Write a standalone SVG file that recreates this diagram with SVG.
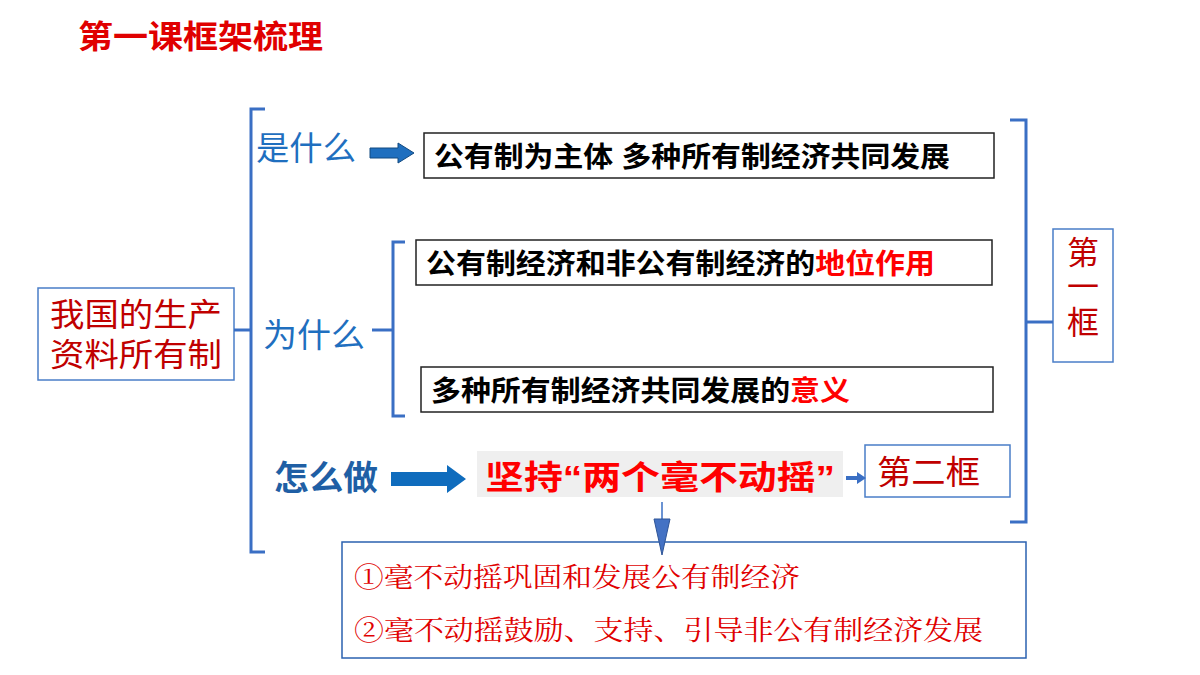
<svg xmlns="http://www.w3.org/2000/svg" width="1200" height="675" viewBox="0 0 1200 675">
<style>
.b{font-family:"Liberation Sans","Noto Sans CJK SC",sans-serif;font-weight:bold;}
.n{font-family:"Liberation Sans","Noto Sans CJK SC",sans-serif;}
.s{font-family:"Liberation Serif","Noto Serif CJK SC","Noto Sans CJK SC",serif;}
.box{fill:#fff;stroke:#222;stroke-width:1.5;}
.bbox{fill:#fff;stroke:#4a7ec8;stroke-width:1.5;}
.br{fill:none;stroke:#3a6fc4;stroke-width:3;}
</style>
<rect width="1200" height="675" fill="#fff"/>
<text class="b" x="78" y="48" font-size="32" fill="#e00000" textLength="245" lengthAdjust="spacingAndGlyphs">第一课框架梳理</text>
<g id="root"><rect class="bbox" x="38" y="288" width="196" height="92"/>
<text class="n" x="50" y="326" font-size="32" fill="#c00000" textLength="172" lengthAdjust="spacingAndGlyphs">我国的生产</text>
<text class="n" x="50" y="366" font-size="32" fill="#c00000" textLength="172" lengthAdjust="spacingAndGlyphs">资料所有制</text></g>
<g id="what"><text class="n" x="256" y="160" font-size="33" fill="#1f6fbf" textLength="100" lengthAdjust="spacingAndGlyphs">是什么</text></g>
<g id="why"><text class="n" x="263" y="347" font-size="33" fill="#1f6fbf" textLength="102" lengthAdjust="spacingAndGlyphs">为什么</text></g>
<g id="how"><text class="b" x="274" y="490" font-size="34" fill="#1f5fa5" textLength="104" lengthAdjust="spacingAndGlyphs">怎么做</text></g>
<g id="n1"><rect class="box" x="424" y="133" width="570" height="45"/>
<text class="b" x="434" y="167" font-size="28" fill="#000" textLength="516" lengthAdjust="spacingAndGlyphs">公有制为主体 多种所有制经济共同发展</text></g>
<g id="n2"><rect class="box" x="416" y="240" width="576" height="45"/>
<text class="b" x="426" y="274" font-size="28" fill="#000" textLength="509" lengthAdjust="spacingAndGlyphs">公有制经济和非公有制经济的<tspan fill="#ff0000">地位作用</tspan></text></g>
<g id="n3"><rect class="box" x="421" y="367" width="572" height="45"/>
<text class="b" x="431" y="401" font-size="28" fill="#000" textLength="419" lengthAdjust="spacingAndGlyphs">多种所有制经济共同发展的<tspan fill="#ff0000">意义</tspan></text></g>
<g id="n4"><rect x="477" y="451" width="366" height="46" fill="#efefef"/>
<text class="b" x="485" y="489" font-size="33" fill="#ff0000" textLength="350" lengthAdjust="spacingAndGlyphs">坚持“两个毫不动摇”</text></g>
<g id="n5"><rect class="bbox" x="865" y="445" width="145" height="52"/>
<text class="n" x="877" y="484" font-size="33" fill="#c00000" textLength="103" lengthAdjust="spacingAndGlyphs">第二框</text></g>
<g id="n6"><rect class="bbox" x="1053" y="229" width="60" height="133"/>
<text class="n" x="1083" y="264" font-size="32" fill="#c00000" text-anchor="middle">第</text>
<text class="n" x="1083" y="298" font-size="32" fill="#c00000" text-anchor="middle">一</text>
<text class="n" x="1083" y="334" font-size="32" fill="#c00000" text-anchor="middle">框</text></g>
<g id="n7"><rect x="342" y="542" width="684" height="116" fill="#fff" stroke="#2b62b0" stroke-width="1.5"/>
<text class="s" x="354" y="587" font-size="27" fill="#e00000" textLength="446" lengthAdjust="spacingAndGlyphs">①毫不动摇巩固和发展公有制经济</text>
<text class="s" x="354" y="640" font-size="27" fill="#e00000" textLength="629" lengthAdjust="spacingAndGlyphs">②毫不动摇鼓励、支持、引导非公有制经济发展</text></g>
<g id="connectors">
<path class="br" d="M265 109 H251 V552 H265"/>
<path class="br" d="M234 330 H251" stroke-width="2"/>
<path class="br" d="M405 242 H393 V416 H405"/>
<path class="br" d="M372 330 H393" stroke-width="2"/>
<path class="br" d="M1010 120 H1026 V522 H1010"/>
<path class="br" d="M1026 322 H1053" stroke-width="2"/>
<path d="M370 148 H398 V143 L414 153 L398 163 V158 H370 Z" fill="#1f6fbf" stroke="#134a80" stroke-width="1"/>
<path d="M391 472 H447 V465 L466 479 L447 493 V486 H391 Z" fill="#0f6cbd"/>
<path d="M846 476 H857 V472 L866 478 L857 484 V480 H846 Z" fill="#3a6fc4"/>
<line x1="662" y1="502" x2="662" y2="520" stroke="#3a6fc4" stroke-width="1.5"/>
<path d="M654 519 H670 L662 555 Z" fill="#4472c4" stroke="#2f5597"/>
</g>
</svg>
